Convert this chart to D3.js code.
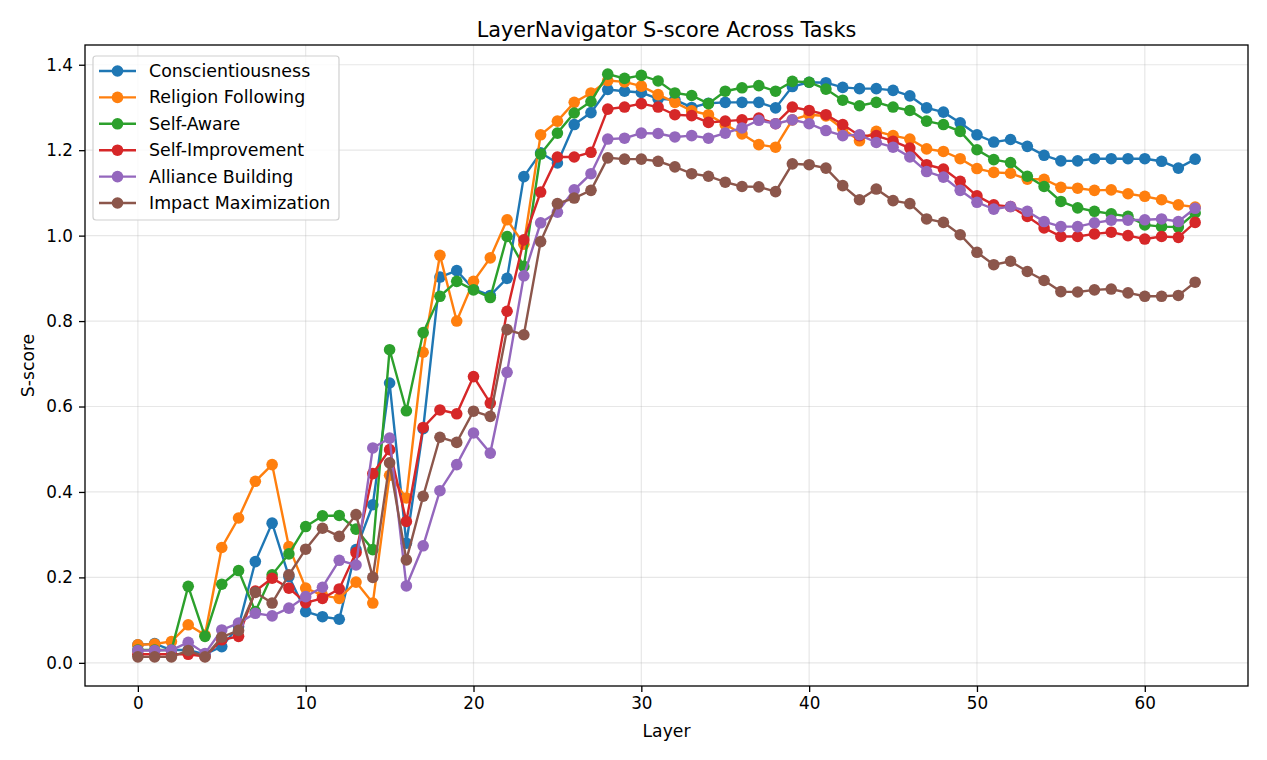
<!DOCTYPE html>
<html><head><meta charset="utf-8">
<script src="https://cdn.jsdelivr.net/npm/d3@7"></script>
<style>body{margin:0;background:#fff;font-family:"DejaVu Sans",sans-serif;}</style>
</head><body><svg id="c" width="1267" height="760"></svg>
<script>
const layers = d3.range(64);
const seriesNames = ["Conscientiousness","Religion Following","Self-Aware","Self-Improvement","Alliance Building","Impact Maximization"];
const colors = ["#1f77b4","#ff7f0e","#2ca02c","#d62728","#9467bd","#8c564b"];
const conscientiousness = [0.042,0.045,0.03,0.03,0.02,0.038,0.085,0.237,0.327,0.202,0.12,0.108,0.102,0.265,0.37,0.655,0.28,0.548,0.903,0.918,0.875,0.86,0.9,1.138,1.194,1.17,1.26,1.288,1.342,1.338,1.335,1.32,1.318,1.3,1.31,1.312,1.312,1.312,1.299,1.349,1.359,1.358,1.347,1.344,1.344,1.34,1.327,1.299,1.289,1.264,1.236,1.219,1.225,1.209,1.188,1.175,1.175,1.18,1.18,1.18,1.18,1.174,1.158,1.179];
const religionFollowing = [0.042,0.044,0.05,0.089,0.065,0.27,0.339,0.425,0.464,0.272,0.175,0.158,0.151,0.189,0.14,0.439,0.386,0.727,0.954,0.80,0.893,0.948,1.037,0.98,1.236,1.268,1.312,1.334,1.363,1.36,1.35,1.33,1.312,1.292,1.283,1.26,1.238,1.213,1.207,1.271,1.283,1.28,1.25,1.222,1.244,1.234,1.226,1.203,1.197,1.18,1.157,1.148,1.146,1.132,1.132,1.113,1.111,1.106,1.107,1.098,1.092,1.084,1.072,1.067];
const selfAware = [0.03,0.03,0.03,0.179,0.062,0.184,0.216,0.12,0.206,0.255,0.319,0.344,0.345,0.313,0.265,0.733,0.59,0.773,0.858,0.893,0.873,0.855,0.998,0.928,1.191,1.24,1.287,1.314,1.378,1.368,1.375,1.362,1.334,1.328,1.309,1.338,1.346,1.351,1.338,1.361,1.359,1.343,1.317,1.304,1.312,1.301,1.293,1.268,1.26,1.244,1.201,1.178,1.171,1.139,1.115,1.08,1.065,1.057,1.051,1.045,1.025,1.021,1.02,1.053];
const selfImprovement = [0.02,0.02,0.02,0.02,0.015,0.054,0.062,0.168,0.198,0.175,0.141,0.151,0.173,0.258,0.443,0.499,0.331,0.551,0.592,0.583,0.67,0.608,0.823,0.99,1.102,1.184,1.184,1.195,1.296,1.301,1.309,1.301,1.283,1.281,1.265,1.268,1.271,1.275,1.262,1.301,1.293,1.283,1.26,1.234,1.234,1.221,1.205,1.166,1.156,1.127,1.093,1.072,1.068,1.045,1.018,0.998,0.998,1.004,1.008,1.0,0.992,0.998,0.996,1.031];
const allianceBuilding = [0.029,0.029,0.03,0.048,0.022,0.077,0.093,0.116,0.11,0.128,0.155,0.177,0.24,0.229,0.503,0.526,0.18,0.274,0.403,0.464,0.538,0.491,0.68,0.906,1.03,1.055,1.107,1.145,1.226,1.228,1.24,1.239,1.231,1.234,1.228,1.24,1.252,1.27,1.262,1.271,1.262,1.246,1.234,1.236,1.218,1.207,1.184,1.15,1.137,1.106,1.078,1.062,1.068,1.057,1.033,1.021,1.021,1.03,1.036,1.036,1.037,1.039,1.033,1.064];
const impactMaximization = [0.014,0.014,0.014,0.029,0.014,0.06,0.076,0.165,0.14,0.206,0.266,0.315,0.296,0.347,0.2,0.468,0.241,0.39,0.528,0.516,0.589,0.577,0.78,0.768,0.986,1.075,1.088,1.106,1.182,1.179,1.179,1.174,1.161,1.145,1.139,1.125,1.115,1.114,1.103,1.168,1.166,1.158,1.117,1.084,1.109,1.082,1.075,1.039,1.031,1.002,0.961,0.932,0.94,0.916,0.895,0.869,0.868,0.873,0.875,0.866,0.858,0.858,0.86,0.891];
const xTicks = [0,10,20,30,40,50,60];
const yTicks = [0,0.2,0.4,0.6,0.8,1.0,1.2,1.4];
const allSeries = [conscientiousness,religionFollowing,selfAware,selfImprovement,allianceBuilding,impactMaximization];

const svg = d3.select("#c");
const m = {l:85, r:1248, t:45, b:686};
const xmin = 0, xmax = 63;
const allv = allSeries.flat();
const ymin = d3.min(allv), ymax = d3.max(allv);
const xpad = (xmax-xmin)*0.05, ypad = (ymax-ymin)*0.05;
const x = d3.scaleLinear().domain([xmin-xpad, xmax+xpad]).range([m.l, m.r]);
const y = d3.scaleLinear().domain([ymin-ypad, ymax+ypad]).range([m.b, m.t]);

// grid
const g = svg.append("g");
g.selectAll(".gx").data(xTicks).join("line").attr("x1",d=>x(d)).attr("x2",d=>x(d)).attr("y1",m.t).attr("y2",m.b)
 .attr("stroke","#b0b0b0").attr("stroke-opacity",0.3).attr("stroke-width",1.2);
g.selectAll(".gy").data(yTicks).join("line").attr("y1",d=>y(d)).attr("y2",d=>y(d)).attr("x1",m.l).attr("x2",m.r)
 .attr("stroke","#b0b0b0").attr("stroke-opacity",0.3).attr("stroke-width",1.2);

// axes
const xa = svg.append("g").attr("transform",`translate(0,${m.b})`)
 .call(d3.axisBottom(x).tickValues(xTicks).tickFormat(d3.format("d")).tickSize(6).tickPadding(5));
const ya = svg.append("g").attr("transform",`translate(${m.l},0)`)
 .call(d3.axisLeft(y).tickValues(yTicks).tickFormat(d3.format(".1f")).tickSize(6).tickPadding(6));
[xa,ya].forEach(a=>{a.select(".domain").remove();a.selectAll("text").attr("font-size",16.8).attr("font-family","DejaVu Sans").attr("fill","#000");a.selectAll("line").attr("stroke","#000").attr("stroke-width",1.3);});

// series
const line = d3.line().x((d,i)=>x(layers[i])).y(d=>y(d));
allSeries.forEach((s,k)=>{
  svg.append("path").datum(s).attr("d",line).attr("fill","none").attr("stroke",colors[k]).attr("stroke-width",2.4);
  svg.append("g").selectAll("circle").data(s).join("circle").attr("cx",(d,i)=>x(layers[i])).attr("cy",d=>y(d)).attr("r",5.8).attr("fill",colors[k]);
});

// frame
svg.append("rect").attr("x",m.l).attr("y",m.t).attr("width",m.r-m.l).attr("height",m.b-m.t).attr("fill","none").attr("stroke","#000").attr("stroke-width",1.3);

// title and labels
svg.append("text").attr("x",(m.l+m.r)/2).attr("y",37).attr("text-anchor","middle").attr("font-size",20.8).text("LayerNavigator S-score Across Tasks");
svg.append("text").attr("x",(m.l+m.r)/2).attr("y",737).attr("text-anchor","middle").attr("font-size",17.2).text("Layer");
svg.append("text").attr("transform",`translate(34,${(m.t+m.b)/2}) rotate(-90)`).attr("text-anchor","middle").attr("font-size",17.2).text("S-score");

// legend
const lg = svg.append("g");
lg.append("rect").attr("x",93).attr("y",56).attr("width",246).attr("height",164).attr("rx",3).attr("fill","#fff").attr("fill-opacity",0.8).attr("stroke","#d0d0d0").attr("stroke-width",1.2);
seriesNames.forEach((n,k)=>{
  const yy = 71 + k*26.4;
  lg.append("line").attr("x1",99).attr("x2",136).attr("y1",yy).attr("y2",yy).attr("stroke",colors[k]).attr("stroke-width",2.4);
  lg.append("circle").attr("cx",117.5).attr("cy",yy).attr("r",5.8).attr("fill",colors[k]);
  lg.append("text").attr("x",149).attr("y",yy+6).attr("font-size",17.4).text(n);
});
</script></body></html>
